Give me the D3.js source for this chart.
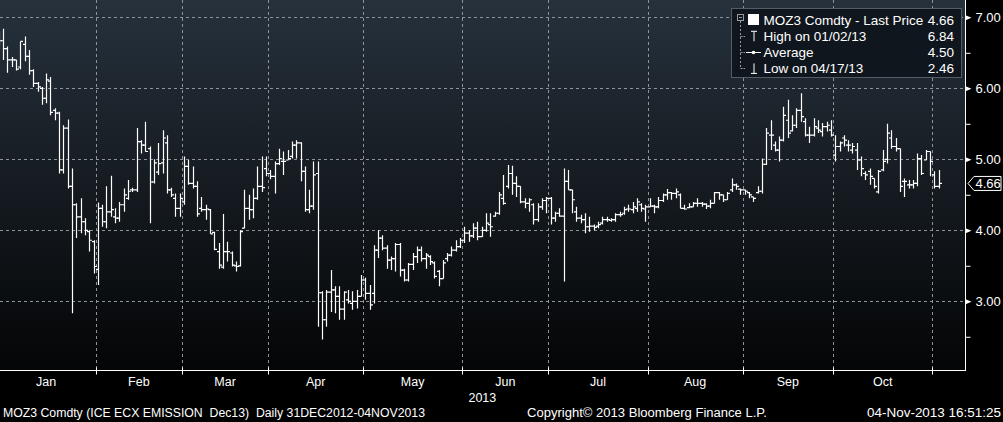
<!DOCTYPE html>
<html>
<head>
<meta charset="utf-8">
<script src="https://cdn.jsdelivr.net/npm/d3@7"></script>
<style>
  html, body { margin: 0; padding: 0; background: #000; }
  svg { display: block; }
  text { font-family: "Liberation Sans", Arial, sans-serif; fill: #fff; white-space: pre; }
</style>
</head>
<body>
<svg id="chart" width="1003" height="422"></svg>
<script>
// Daily OHLC, 31 Dec 2012 .. 04 Nov 2013 (one entry per trading day)
const opens = [
  6.70, 6.67, 6.56, 6.40, 6.40, 6.30, 6.62, 6.45, 6.25, 6.07, 6.00, 5.86, 6.10, 5.69, 5.65, 4.85, 5.44, 4.62, 4.36, 4.19,
  4.12, 3.98, 3.84, 3.45, 4.31, 4.12, 4.26, 4.19, 4.17, 4.36, 4.45, 4.57, 4.57, 5.25, 5.20, 5.15, 4.68, 4.82, 4.95, 5.23,
  4.57, 4.45, 4.31, 4.40, 4.90, 4.66, 4.62, 4.31, 4.29, 4.29, 3.97, 3.70, 3.48, 3.70, 3.68, 3.50, 3.50, 4.03, 4.31, 4.29,
  4.45, 4.62, 4.87, 4.80, 4.76, 4.94, 4.97, 4.99, 5.04, 5.20, 5.23, 4.83, 4.29, 4.34, 4.80, 3.12, 2.74, 3.13, 3.16, 3.07,
  2.89, 3.02, 2.97, 3.00, 3.07, 3.30, 3.11, 3.11, 3.72, 3.89, 3.75, 3.58, 3.60, 3.80, 3.44, 3.30, 3.52, 3.63, 3.72, 3.60,
  3.63, 3.54, 3.42, 3.32, 3.60, 3.65, 3.72, 3.77, 3.86, 3.96, 3.92, 4.03, 3.91, 4.00, 4.08, 4.20, 4.24, 4.45, 4.62, 4.80,
  4.66, 4.62, 4.40, 4.38, 4.36, 4.15, 4.33, 4.42, 4.45, 4.17, 4.24, 4.20, 4.69, 4.57, 4.26, 4.17, 4.15, 4.05, 4.06, 4.06,
  4.10, 4.15, 4.14, 4.15, 4.22, 4.24, 4.30, 4.29, 4.31, 4.36, 4.30, 4.33, 4.34, 4.33, 4.42, 4.50, 4.53, 4.52, 4.50, 4.31,
  4.32, 4.33, 4.38, 4.38, 4.37, 4.34, 4.38, 4.53, 4.50, 4.43, 4.57, 4.64, 4.58, 4.57, 4.53, 4.47, 4.53, 4.55, 4.93, 5.34,
  5.20, 5.13, 5.27, 5.55, 5.40, 5.48, 5.69, 5.53, 5.34, 5.34, 5.44, 5.39, 5.46, 5.41, 5.06, 5.18, 5.30, 5.20, 5.13, 5.13,
  4.99, 4.80, 4.83, 4.73, 4.54, 4.85, 5.00, 5.30, 5.18, 5.15, 4.69, 4.64, 4.64, 4.66, 5.01, 4.99, 5.11, 4.78, 4.62
];
const highs = [
  6.80, 6.84, 6.59, 6.44, 6.40, 6.66, 6.73, 6.54, 6.27, 6.09, 6.02, 6.21, 6.16, 5.72, 5.67, 5.48, 5.56, 4.87, 4.38, 4.45,
  4.17, 4.00, 3.86, 4.39, 4.36, 4.62, 4.77, 4.31, 4.40, 4.59, 4.71, 4.60, 5.44, 5.27, 5.53, 5.18, 5.00, 5.23, 5.41, 5.34,
  4.60, 4.52, 4.52, 5.04, 4.99, 4.90, 4.69, 4.47, 4.36, 4.30, 3.98, 3.82, 4.23, 3.84, 3.70, 3.56, 4.00, 4.57, 4.50, 4.59,
  4.90, 5.04, 5.04, 4.85, 4.97, 5.15, 5.11, 5.13, 5.25, 5.27, 5.24, 4.90, 4.57, 4.97, 4.97, 3.14, 3.16, 3.44, 3.21, 3.21,
  3.14, 3.16, 3.14, 3.16, 3.37, 3.33, 3.23, 3.79, 4.00, 3.93, 3.79, 3.63, 3.82, 3.82, 3.46, 3.54, 3.68, 3.77, 3.77, 3.68,
  3.65, 3.56, 3.44, 3.58, 3.68, 3.77, 3.86, 3.89, 4.05, 4.00, 4.10, 4.12, 4.05, 4.24, 4.24, 4.26, 4.54, 4.78, 4.92, 4.91,
  4.76, 4.62, 4.45, 4.45, 4.38, 4.38, 4.45, 4.47, 4.47, 4.26, 4.31, 4.87, 4.85, 4.57, 4.33, 4.22, 4.24, 4.19, 4.08, 4.12,
  4.19, 4.19, 4.17, 4.24, 4.26, 4.33, 4.36, 4.40, 4.45, 4.38, 4.36, 4.45, 4.36, 4.47, 4.52, 4.58, 4.54, 4.59, 4.52, 4.36,
  4.38, 4.40, 4.45, 4.40, 4.38, 4.43, 4.54, 4.54, 4.50, 4.54, 4.73, 4.66, 4.59, 4.57, 4.54, 4.47, 4.62, 5.01, 5.44, 5.55,
  5.25, 5.32, 5.74, 5.84, 5.62, 5.72, 5.93, 5.58, 5.46, 5.58, 5.55, 5.51, 5.53, 5.55, 5.34, 5.25, 5.34, 5.27, 5.23, 5.23,
  5.04, 4.83, 4.87, 4.73, 4.85, 5.13, 5.50, 5.41, 5.30, 5.15, 4.73, 4.71, 4.71, 5.08, 5.06, 5.13, 5.11, 4.83, 4.85
];
const lows = [
  6.60, 6.40, 6.22, 6.30, 6.25, 6.27, 6.38, 6.19, 6.02, 5.95, 5.77, 5.79, 5.62, 5.55, 4.80, 4.80, 4.59, 2.83, 3.89, 3.96,
  3.93, 3.70, 3.39, 3.23, 4.05, 4.03, 4.19, 4.10, 4.12, 4.26, 4.43, 4.54, 4.54, 5.08, 5.11, 4.10, 4.66, 4.78, 4.80, 4.52,
  4.47, 4.19, 4.19, 4.36, 4.64, 4.59, 4.19, 4.26, 4.15, 3.95, 3.72, 3.46, 3.46, 3.56, 3.49, 3.42, 3.49, 4.03, 4.15, 4.17,
  4.43, 4.54, 4.76, 4.72, 4.52, 4.92, 4.78, 4.99, 5.01, 5.01, 4.69, 4.26, 4.24, 4.29, 2.64, 2.46, 2.64, 2.85, 2.83, 2.74,
  2.74, 2.97, 2.88, 2.90, 3.07, 3.02, 2.88, 2.97, 3.61, 3.72, 3.46, 3.44, 3.42, 3.35, 3.28, 3.28, 3.44, 3.54, 3.56, 3.46,
  3.51, 3.32, 3.21, 3.32, 3.56, 3.63, 3.70, 3.75, 3.82, 3.84, 3.89, 3.86, 3.91, 3.98, 3.91, 4.19, 4.22, 4.36, 4.59, 4.50,
  4.47, 4.38, 4.31, 4.26, 4.08, 4.12, 4.29, 4.24, 4.08, 4.12, 4.19, 3.28, 4.57, 4.24, 4.12, 4.10, 3.96, 3.98, 4.00, 4.03,
  4.08, 4.12, 4.12, 4.12, 4.19, 4.22, 4.26, 4.24, 4.26, 4.26, 4.12, 4.33, 4.24, 4.31, 4.40, 4.43, 4.43, 4.45, 4.31, 4.29,
  4.31, 4.33, 4.33, 4.33, 4.30, 4.31, 4.38, 4.43, 4.40, 4.43, 4.54, 4.57, 4.50, 4.50, 4.45, 4.40, 4.52, 4.52, 4.92, 5.13,
  5.11, 4.97, 5.25, 5.30, 5.39, 5.44, 5.53, 5.32, 5.23, 5.32, 5.37, 5.32, 5.39, 5.32, 4.97, 5.11, 5.18, 5.11, 5.08, 4.85,
  4.76, 4.71, 4.64, 4.59, 4.52, 4.83, 4.94, 5.15, 5.11, 4.54, 4.47, 4.59, 4.59, 4.62, 4.78, 4.99, 4.76, 4.59, 4.59
];
const closes = [
  6.67, 6.56, 6.40, 6.40, 6.27, 6.66, 6.45, 6.25, 6.07, 6.02, 5.86, 6.12, 5.66, 5.65, 4.85, 5.44, 4.62, 4.36, 4.19, 4.12,
  4.00, 3.86, 3.49, 4.31, 4.12, 4.26, 4.29, 4.17, 4.36, 4.50, 4.55, 4.57, 5.25, 5.20, 5.11, 4.68, 4.95, 4.94, 5.30, 4.57,
  4.50, 4.31, 4.45, 4.90, 4.66, 4.62, 4.23, 4.29, 4.30, 3.95, 3.73, 3.51, 3.70, 3.70, 3.51, 3.49, 3.98, 4.31, 4.29, 4.45,
  4.62, 4.60, 4.80, 4.76, 4.94, 5.01, 4.97, 5.01, 5.20, 5.23, 4.83, 4.29, 4.34, 4.78, 3.12, 2.74, 3.13, 3.16, 3.07, 2.89,
  3.13, 3.00, 3.00, 3.07, 3.30, 3.11, 2.95, 3.72, 3.89, 3.75, 3.58, 3.60, 3.80, 3.44, 3.30, 3.52, 3.63, 3.72, 3.60, 3.65,
  3.56, 3.35, 3.32, 3.54, 3.65, 3.72, 3.77, 3.86, 3.96, 3.92, 4.03, 3.91, 4.00, 4.10, 4.05, 4.24, 4.50, 4.38, 4.80, 4.66,
  4.62, 4.40, 4.38, 4.43, 4.15, 4.33, 4.42, 4.45, 4.17, 4.24, 4.20, 4.69, 4.57, 4.43, 4.17, 4.15, 4.05, 4.06, 4.04, 4.08,
  4.15, 4.15, 4.15, 4.22, 4.22, 4.29, 4.30, 4.33, 4.40, 4.31, 4.33, 4.34, 4.33, 4.42, 4.50, 4.53, 4.52, 4.54, 4.31, 4.30,
  4.33, 4.38, 4.38, 4.37, 4.34, 4.38, 4.53, 4.50, 4.43, 4.52, 4.64, 4.62, 4.57, 4.55, 4.50, 4.45, 4.55, 4.93, 5.37, 5.34,
  5.13, 5.27, 5.62, 5.37, 5.48, 5.69, 5.60, 5.34, 5.34, 5.46, 5.41, 5.46, 5.48, 5.34, 5.18, 5.23, 5.27, 5.20, 5.18, 4.99,
  4.87, 4.78, 4.76, 4.62, 4.83, 4.97, 5.37, 5.18, 5.15, 4.62, 4.69, 4.64, 4.66, 5.01, 4.80, 5.11, 4.97, 4.62, 4.66
];

// first trading-day index of each month
const monthLabels = ['Jan', 'Feb', 'Mar', 'Apr', 'May', 'Jun', 'Jul', 'Aug', 'Sep', 'Oct', 'Nov'];
const monthStarts = [0, 23, 43, 63, 85, 108, 128, 151, 173, 194, 217];
const gridPrices = [3, 4, 5, 6, 7];
const priceTicks = [2.5, 3, 3.5, 4, 4.5, 5, 5.5, 6, 6.5, 7];
const lastPrice = 4.66;
const yearLabel = '2013';
const legendLabels = ['MOZ3 Comdty - Last Price', 'High on 01/02/13', 'Average', 'Low on 04/17/13'];
const legendValues = ['4.66', '6.84', '4.50', '2.46'];
const footerLeft = 'MOZ3 Comdty (ICE ECX EMISSION  Dec13)  Daily 31DEC2012-04NOV2013';
const footerMid = 'Copyright\u00a9 2013 Bloomberg Finance L.P.';
const footerRight = '04-Nov-2013 16:51:25';

const width = 1003, height = 422;
const plotRight = 965, plotBottom = 370;

const svg = d3.select('#chart');

const bars = opens.map((o, i) => ({ i, o, h: highs[i], l: lows[i], c: closes[i] }));

const x = d3.scaleLinear()
  .domain([0, bars.length - 1])
  .range([-1.3, 938.7]);

const y = d3.scaleLinear()
  .domain([2.032, 7.244])
  .range([plotBottom, 0]);

// Background gradient of the plot area
const defs = svg.append('defs');
const grad = defs.append('linearGradient')
  .attr('id', 'bg')
  .attr('x1', 0).attr('y1', 0).attr('x2', 0).attr('y2', 1);
grad.append('stop').attr('offset', '0%').attr('stop-color', '#26313c');
grad.append('stop').attr('offset', '100%').attr('stop-color', '#040506');

defs.append('clipPath').attr('id', 'plotClip')
  .append('rect').attr('width', plotRight).attr('height', plotBottom);

svg.append('rect')
  .attr('width', plotRight)
  .attr('height', plotBottom)
  .attr('fill', 'url(#bg)');

// Grid
const grid = svg.append('g')
  .attr('stroke', '#8e9398')
  .attr('stroke-width', 1)
  .attr('stroke-dasharray', '3,3');

grid.selectAll('.hgrid')
  .data(gridPrices)
  .enter().append('line')
  .attr('x1', 0).attr('x2', plotRight)
  .attr('y1', d => Math.round(y(d)) + 0.5)
  .attr('y2', d => Math.round(y(d)) + 0.5);

grid.selectAll('.vgrid')
  .data(monthStarts.slice(1))
  .enter().append('line')
  .attr('x1', d => Math.round(x(d - 0.5)) + 0.5)
  .attr('x2', d => Math.round(x(d - 0.5)) + 0.5)
  .attr('y1', 0).attr('y2', plotBottom);

// OHLC bars: high-low stem, open tick left, close tick right
svg.append('g')
  .attr('clip-path', 'url(#plotClip)')
  .selectAll('path')
  .data(bars)
  .enter().append('path')
  .attr('fill', 'none')
  .attr('stroke', '#fff')
  .attr('stroke-width', 1.2)
  .attr('d', d => {
    const cx = Math.round(x(d.i)) + 0.5;
    return 'M' + cx + ',' + y(d.h) + 'V' + y(d.l) +
      'M' + (cx - 2.5) + ',' + y(d.o) + 'H' + cx +
      'M' + cx + ',' + y(d.c) + 'H' + (cx + 2.5);
  });

// Bottom axis
const xAxis = d3.axisBottom(x)
  .tickValues(monthStarts.slice(1).map(s => s - 0.5))
  .tickSize(4)
  .tickFormat('');

const gx = svg.append('g')
  .attr('transform', 'translate(0.5,' + (plotBottom + 0.5) + ')')
  .call(xAxis);
gx.select('.domain').remove();
gx.selectAll('.tick line')
  .attr('stroke', '#fff')
  .attr('y1', -3);
gx.selectAll('.tick').attr('transform', d => 'translate(' + Math.round(x(d)) + ',0)');

svg.append('line')
  .attr('x1', 0).attr('x2', plotRight + 0.5)
  .attr('y1', plotBottom + 0.5).attr('y2', plotBottom + 0.5)
  .attr('stroke', '#fff');

// Month labels between boundaries
const edges = monthStarts.map(s => x(s - 0.5));
svg.append('g')
  .selectAll('text')
  .data(monthLabels.slice(0, -1))
  .enter().append('text')
  .attr('x', (d, k) => (edges[k] + edges[k + 1]) / 2)
  .attr('y', 386)
  .attr('text-anchor', 'middle')
  .attr('font-size', 12.5)
  .text(d => d);

svg.append('text')
  .attr('x', (x(monthStarts[5] - 0.5) + x(monthStarts[6] - 0.5)) / 2 - 23)
  .attr('y', 402)
  .attr('text-anchor', 'middle')
  .attr('font-size', 12.5)
  .text(yearLabel);

// Right axis
const yAxis = d3.axisRight(y)
  .tickValues(priceTicks)
  .tickSize(0)
  .tickPadding(10)
  .tickFormat(v => Number.isInteger(v) ? d3.format('.2f')(v) : '');

const gy = svg.append('g')
  .attr('transform', 'translate(' + (plotRight + 0.5) + ',0)')
  .call(yAxis);
gy.select('.domain').remove();
gy.selectAll('.tick text')
  .attr('fill', '#fff')
  .attr('font-size', 13)
  .attr('font-family', '"Liberation Sans", Arial, sans-serif');
gy.selectAll('.tick').each(function (v) {
  const t = d3.select(this);
  if (Number.isInteger(v)) {
    t.append('path').attr('d', 'M0,-2.5L6,0L0,2.5Z').attr('fill', '#fff');
  } else {
    t.append('line').attr('x2', 5).attr('stroke', '#fff');
  }
});

svg.append('line')
  .attr('x1', plotRight + 0.5).attr('x2', plotRight + 0.5)
  .attr('y1', 0).attr('y2', plotBottom + 1)
  .attr('stroke', '#fff');

// Last price flag
const ly = y(lastPrice);
svg.append('path')
  .attr('d', 'M' + (plotRight + 3) + ',' + ly +
    'L' + (plotRight + 9) + ',' + (ly - 7) +
    'H' + (width - 2) + 'V' + (ly + 7) +
    'H' + (plotRight + 9) + 'Z')
  .attr('fill', '#000')
  .attr('stroke', '#fff')
  .attr('stroke-width', 1);
svg.append('text')
  .attr('x', plotRight + 10.5)
  .attr('y', ly + 4.5)
  .attr('font-size', 13)
  .text(d3.format('.2f')(lastPrice));

// Legend
const legend = svg.append('g').attr('transform', 'translate(731,8)');
legend.append('rect')
  .attr('x', 0.5).attr('y', 0.5)
  .attr('width', 230).attr('height', 69)
  .attr('fill', '#10161d')
  .attr('stroke', '#565c63');

const rowY = k => 16.5 + k * 16.3;
const tree = legend.append('g').attr('stroke', '#9a9a9a').attr('fill', 'none');
tree.append('rect').attr('x', 6.5).attr('y', 6.5).attr('width', 6).attr('height', 6);
tree.append('line').attr('x1', 8).attr('x2', 11).attr('y1', 9.5).attr('y2', 9.5);
tree.append('line')
  .attr('x1', 9.5).attr('x2', 9.5)
  .attr('y1', 13).attr('y2', rowY(3) - 5)
  .attr('stroke-dasharray', '2,2');
tree.selectAll('.stub')
  .data([1, 2, 3])
  .enter().append('line')
  .attr('x1', 9.5).attr('x2', 14)
  .attr('y1', k => Math.round(rowY(k) - 5) + 0.5)
  .attr('y2', k => Math.round(rowY(k) - 5) + 0.5)
  .attr('stroke-dasharray', '2,1');

legend.append('rect').attr('x', 17).attr('y', 6).attr('width', 11).attr('height', 11).attr('fill', '#fff');

const icons = legend.append('g').attr('stroke', '#fff').attr('fill', 'none');
const hy = rowY(1);
icons.append('path').attr('d', 'M20,' + (hy - 9.5) + 'H26M23,' + (hy - 9.5) + 'V' + (hy + 0.5));
const ay = Math.round(rowY(2) - 5) + 0.5;
icons.append('path').attr('d', 'M15,' + ay + 'H30');
legend.append('circle').attr('cx', 22.5).attr('cy', ay).attr('r', 1.8).attr('fill', '#fff');
const lwy = rowY(3);
icons.append('path').attr('d', 'M23,' + (lwy - 10) + 'V' + lwy + 'M20,' + lwy + 'H26');

legend.selectAll('.lab')
  .data(legendLabels)
  .enter().append('text')
  .attr('x', 32.5)
  .attr('y', (d, k) => rowY(k))
  .attr('font-size', 13.5)
  .text(d => d);

legend.selectAll('.val')
  .data(legendValues)
  .enter().append('text')
  .attr('x', 223)
  .attr('y', (d, k) => rowY(k))
  .attr('text-anchor', 'end')
  .attr('font-size', 13.5)
  .text(d => d);

// Footer
const footer = svg.append('g').attr('font-size', 12.5);
footer.append('text').attr('x', 3).attr('y', 417)
  .attr('textLength', 422).attr('lengthAdjust', 'spacingAndGlyphs').text(footerLeft);
footer.append('text').attr('x', 527).attr('y', 417)
  .attr('textLength', 240).attr('lengthAdjust', 'spacingAndGlyphs').text(footerMid);
footer.append('text').attr('x', 867).attr('y', 417)
  .attr('textLength', 134).attr('lengthAdjust', 'spacingAndGlyphs').text(footerRight);
</script>
</body>
</html>
